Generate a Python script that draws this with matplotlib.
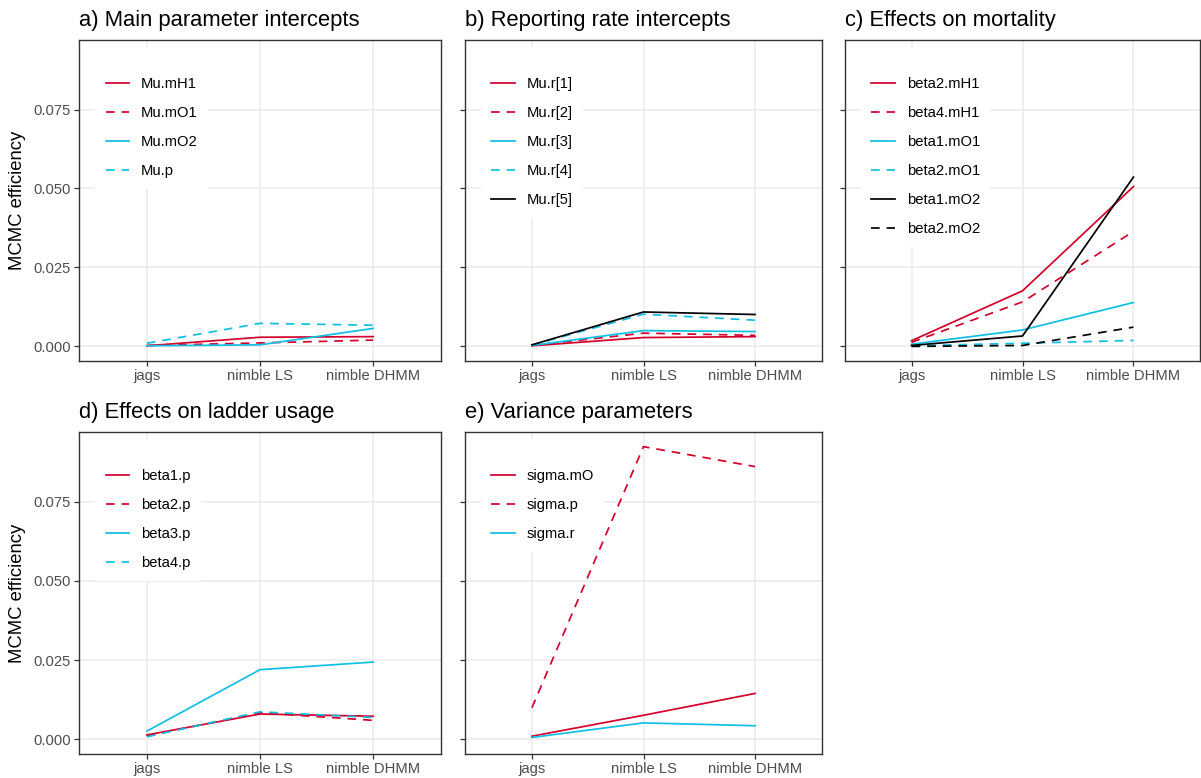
import matplotlib
matplotlib.use('Agg')
import matplotlib.pyplot as plt
import numpy as np

plt.rcParams['font.family'] = ['Liberation Sans', 'DejaVu Sans']

# ── Data ──────────────────────────────────────────────────────
methods = ['jags', 'nimble LS', 'nimble DHMM']

titles = ['a) Main parameter intercepts', 'b) Reporting rate intercepts',
          'c) Effects on mortality', 'd) Effects on ladder usage',
          'e) Variance parameters']

a_names = ['Mu.mH1', 'Mu.mO1', 'Mu.mO2', 'Mu.p']
a_vals = [[0.0002, 0.0029, 0.0031],
          [0.0003, 0.0011, 0.0020],
          [0.0002, 0.0005, 0.0057],
          [0.0010, 0.0073, 0.0067]]

b_names = ['Mu.r[1]', 'Mu.r[2]', 'Mu.r[3]', 'Mu.r[4]', 'Mu.r[5]']
b_vals = [[0.0002, 0.0028, 0.0031],
          [0.0003, 0.0042, 0.0035],
          [0.0003, 0.0050, 0.0047],
          [0.0004, 0.0102, 0.0083],
          [0.0005, 0.0109, 0.0101]]

c_names = ['beta2.mH1', 'beta4.mH1', 'beta1.mO1', 'beta2.mO1',
           'beta1.mO2', 'beta2.mO2']
c_vals = [[0.0018, 0.0176, 0.0506],
          [0.0013, 0.0141, 0.0364],
          [0.0007, 0.0052, 0.0139],
          [0.0002, 0.0010, 0.0019],
          [0.0003, 0.0033, 0.0536],
          [0.0000, 0.0003, 0.0061]]

d_names = ['beta1.p', 'beta2.p', 'beta3.p', 'beta4.p']
d_vals = [[0.0014, 0.0080, 0.0073],
          [0.0011, 0.0084, 0.0060],
          [0.0026, 0.0220, 0.0244],
          [0.0008, 0.0087, 0.0069]]

e_names = ['sigma.mO', 'sigma.p', 'sigma.r']
e_vals = [[0.0010, 0.0076, 0.0145],
          [0.0100, 0.0924, 0.0861],
          [0.0006, 0.0052, 0.0043]]

# ── Style ─────────────────────────────────────────────────────
RED = '#D4002C'
CYAN = '#10BFE4'
BLACK = '#000000'
styles = [(RED, '-'), (RED, '--'), (CYAN, '-'), (CYAN, '--'),
          (BLACK, '-'), (BLACK, '--')]
GRID = '#EBEBEB'
BORDER = '#333333'
TICKTXT = '#4D4D4D'

W, H = 1201, 778
fig = plt.figure(figsize=(W / 100, H / 100), dpi=100)
fig.patch.set_facecolor('white')

cols = [(79, 441), (465, 822), (845, 1200)]
rows = [(40, 361), (432, 754)]

panels = [(a_names, a_vals), (b_names, b_vals), (c_names, c_vals),
          (d_names, d_vals), (e_names, e_vals)]

all_vals = np.concatenate([np.array(v).ravel() for _, v in panels])
lo, hi = all_vals.min(), all_vals.max()
pad = (hi - lo) * 0.05
ylim = (lo - pad, hi + pad)

for i, (names, vals) in enumerate(panels):
    r, c = divmod(i, 3)
    x0, x1 = cols[c]
    top, bot = rows[r]
    ax = fig.add_axes([x0 / W, (H - bot) / H, (x1 - x0) / W, (bot - top) / H])
    ax.set_facecolor('white')
    xs = np.arange(1, len(methods) + 1)
    for j, (name, v) in enumerate(zip(names, vals)):
        col, ls = styles[j]
        ln, = ax.plot(xs, v, color=col, linewidth=1.25, label=name)
        if ls == '--':
            ln.set_dashes((5, 4))
    ax.set_xlim(0.4, 3.6)
    ax.set_ylim(*ylim)
    ax.set_xticks(xs)
    ax.set_xticklabels(methods)
    ax.set_yticks([0, 0.025, 0.05, 0.075])
    if c == 0:
        ax.set_yticklabels(['0.000', '0.025', '0.050', '0.075'])
    else:
        ax.set_yticklabels([])
    ax.grid(True, color=GRID, linewidth=1.1)
    ax.set_axisbelow(True)
    for sp in ax.spines.values():
        sp.set_color(BORDER)
        sp.set_linewidth(1.0)
    ax.tick_params(colors=BORDER, labelcolor=TICKTXT, labelsize=10.6,
                   length=3.3, width=0.9, pad=2.5)
    ax.set_title(titles[i], loc='left', fontsize=15.8, pad=10, color='black')
    # blank title adds the empty gap above the keys, as in ggplot
    leg = ax.legend(loc='upper left', bbox_to_anchor=(0.045, 0.978),
                    fontsize=10.6, frameon=True, fancybox=False,
                    title=' ', title_fontsize=4,
                    handlelength=1.6, handletextpad=0.8, labelspacing=1.02,
                    borderpad=0.7, borderaxespad=0)
    leg.get_frame().set_facecolor('white')
    leg.get_frame().set_edgecolor('none')
    leg.get_frame().set_alpha(1)
    leg.set_zorder(1.5)  # over the grid, under the data lines

for top, bot in rows:
    fig.text(18 / W, 1 - (top + bot) / 2 / H, 'MCMC efficiency', rotation=90,
             ha='center', va='center', fontsize=13.3)

fig.savefig('out.png', dpi=100, facecolor='white')
